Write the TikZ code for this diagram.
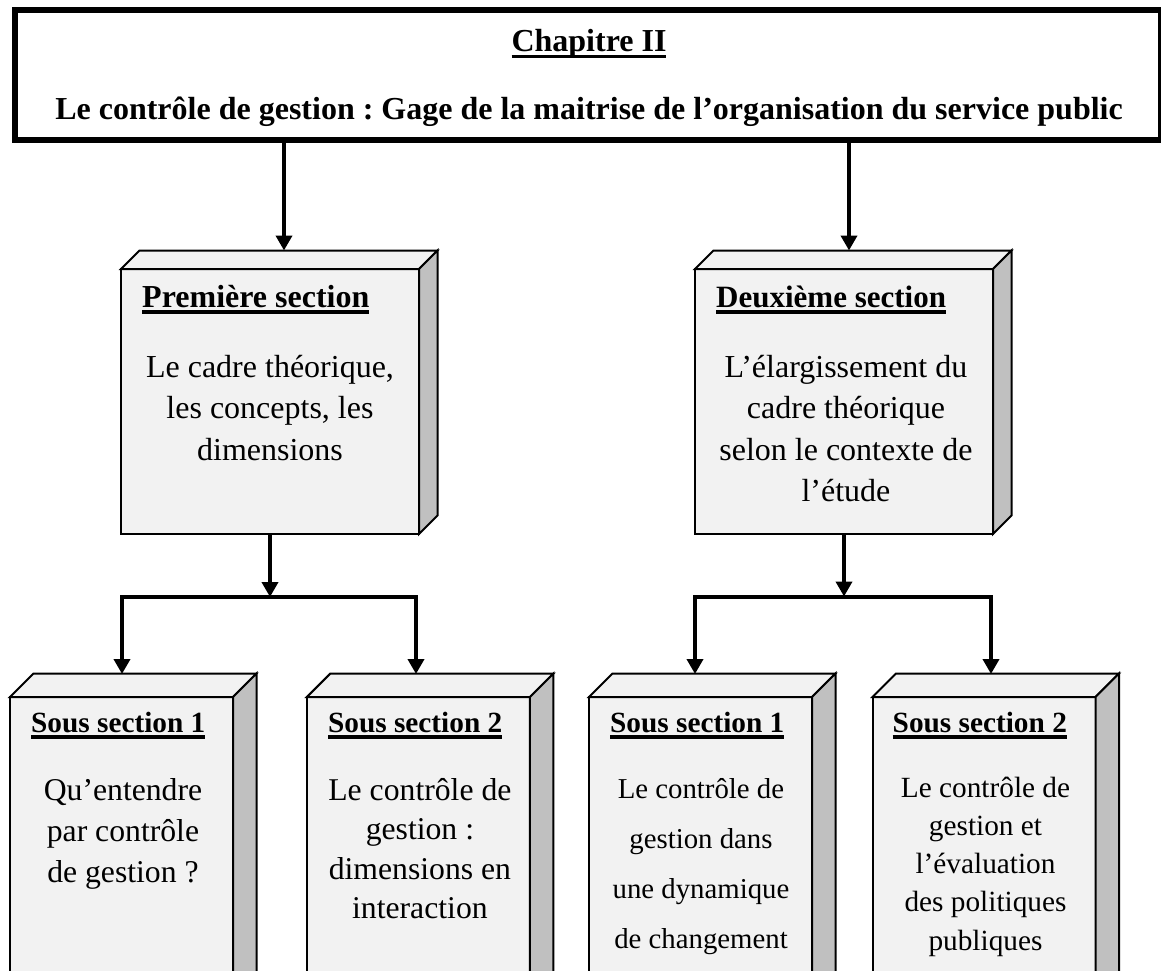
\documentclass[tikz,border=0pt]{standalone}
\usepackage{fontspec}
\setmainfont{Liberation Serif}
\usetikzlibrary{arrows.meta,calc}
\definecolor{facefill}{HTML}{F2F2F2}
\definecolor{sidefill}{HTML}{C0C0C0}
\frenchspacing
% thick underline placed just below the baseline
\newcommand\titleul[1]{\setbox0=\hbox{#1}\rlap{\rule[-6.5pt]{\wd0}{3.5pt}}\box0}
% top and right faces of a raised box whose front face is node #1, depth #2
\newcommand\cubefaces[2]{%
  \draw[face] (#1.north west) -- ++(#2,-#2) -- ($(#1.north east)+(#2,-#2)$) -- (#1.north east) -- cycle;
  \draw[face, fill=sidefill] (#1.north east) -- ++(#2,-#2) -- ($(#1.south east)+(#2,-#2)$) -- (#1.south east) -- cycle;}
\begin{document}
\begin{tikzpicture}[x=1pt, y=-1pt,
  face/.style={draw, line width=2pt, fill=facefill, line join=miter},
  frontface/.style={face, rectangle, inner sep=0pt, outer sep=0pt},
  conn/.style={line width=4pt, line join=miter, -{Triangle[width=16pt,length=15pt]}},
  headtext/.style={anchor=base west, inner sep=0pt},
  % multi-line text: the base anchor sits on the last line
  bodytext/.style={anchor=base, align=center, inner sep=0pt}]
\useasboundingbox (0,0) rectangle (1161,971);
\clip (0,0) rectangle (1161,971);

% chapter banner
\node[draw, line width=6pt, inner sep=0pt, outer sep=0pt, minimum width=1146pt, minimum height=130pt] (chap) at (588,75) {};
\node[anchor=base, inner sep=0pt, font=\fontsize{32}{38}\selectfont\bfseries] (chapnum) at (589,52) {\titleul{Chapitre II}};
\node[anchor=base, inner sep=0pt, font=\fontsize{32}{38}\selectfont\bfseries] (chaptitle) at (589,120) {Le contrôle de gestion : Gage de la maitrise de l’organisation du service public};

% sections
\node[frontface, minimum width=298pt, minimum height=265pt] (s1) at (270,401.5) {};
\cubefaces{s1}{18.5}
\node[frontface, minimum width=298pt, minimum height=265pt] (s2) at (844,401.5) {};
\cubefaces{s2}{18.5}

\node[headtext, font=\fontsize{32}{38}\selectfont\bfseries] (s1head) at ($(s1.north west)+(21,38)$) {\titleul{Première section}};
\node[bodytext, font=\fontsize{32}{41.5}\selectfont] (s1body) at ($(s1.north)+(0,191)$) {Le cadre théorique,\\les concepts, les\\dimensions};
\node[headtext, font=\fontsize{31}{38}\selectfont\bfseries] (s2head) at ($(s2.north west)+(21,38)$) {\titleul{Deuxième section}};
\node[bodytext, font=\fontsize{32}{41.5}\selectfont] (s2body) at ($(s2.north)+(2,232.5)$) {L’élargissement du\\cadre théorique\\selon le contexte de\\l’étude};

% sub-sections
\node[frontface, minimum width=223pt, minimum height=303pt] (ss1) at (121.5,848.5) {};
\cubefaces{ss1}{23.5}
\node[frontface, minimum width=223pt, minimum height=303pt] (ss2) at (418.4,848.5) {};
\cubefaces{ss2}{23.5}
\node[frontface, minimum width=223pt, minimum height=303pt] (ss3) at (700.5,848.5) {};
\cubefaces{ss3}{23.5}
\node[frontface, minimum width=223pt, minimum height=303pt] (ss4) at (984,848.5) {};
\cubefaces{ss4}{23.5}

\node[headtext, font=\fontsize{29.3}{36}\selectfont\bfseries] (ss1head) at ($(ss1.north west)+(21,35)$) {\titleul{Sous section 1}};
\node[headtext, font=\fontsize{29.3}{36}\selectfont\bfseries] (ss2head) at ($(ss2.north west)+(21,35)$) {\titleul{Sous section 2}};
\node[headtext, font=\fontsize{29.3}{36}\selectfont\bfseries] (ss3head) at ($(ss3.north west)+(21,35)$) {\titleul{Sous section 1}};
\node[headtext, font=\fontsize{29.3}{36}\selectfont\bfseries] (ss4head) at ($(ss4.north west)+(20,35)$) {\titleul{Sous section 2}};

\node[bodytext, font=\fontsize{31.7}{41}\selectfont] (ss1body) at ($(ss1.north)+(1.5,185)$) {Qu’entendre\\par contrôle\\de gestion ?};
\node[bodytext, font=\fontsize{31.7}{39.5}\selectfont] (ss2body) at ($(ss2.north)+(1.5,221.5)$) {Le contrôle de\\gestion :\\dimensions en\\interaction};
\node[bodytext, font=\fontsize{28.8}{50}\selectfont] (ss3body) at ($(ss3.north)+(0.5,251)$) {Le contrôle de\\gestion dans\\une dynamique\\de changement};
\node[bodytext, font=\fontsize{29.3}{38.3}\selectfont] (ss4body) at ($(ss4.north)+(1.5,253.2)$) {Le contrôle de\\gestion et\\l’évaluation\\des politiques\\publiques};

% connector end points
\coordinate (s1in) at (284,250.5);
\coordinate (s2in) at (849,250.5);
\coordinate (bar1) at (270,597);
\coordinate (bar2) at (844,596.5);
\coordinate (ss1in) at (122,674);
\coordinate (ss2in) at (416,674);
\coordinate (ss3in) at (695,674);
\coordinate (ss4in) at (991,674);

% connectors
\draw[conn] (chap.south -| s1in) -- (s1in);
\draw[conn] (chap.south -| s2in) -- (s2in);
\draw[conn] (s1.south) -- (bar1);
\draw[conn] (s2.south) -- (bar2);
\draw[conn] (bar1) -| (ss1in);
\draw[conn] (bar1) -| (ss2in);
\draw[conn] (bar2) -| (ss3in);
\draw[conn] (bar2) -| (ss4in);
\end{tikzpicture}
\end{document}
